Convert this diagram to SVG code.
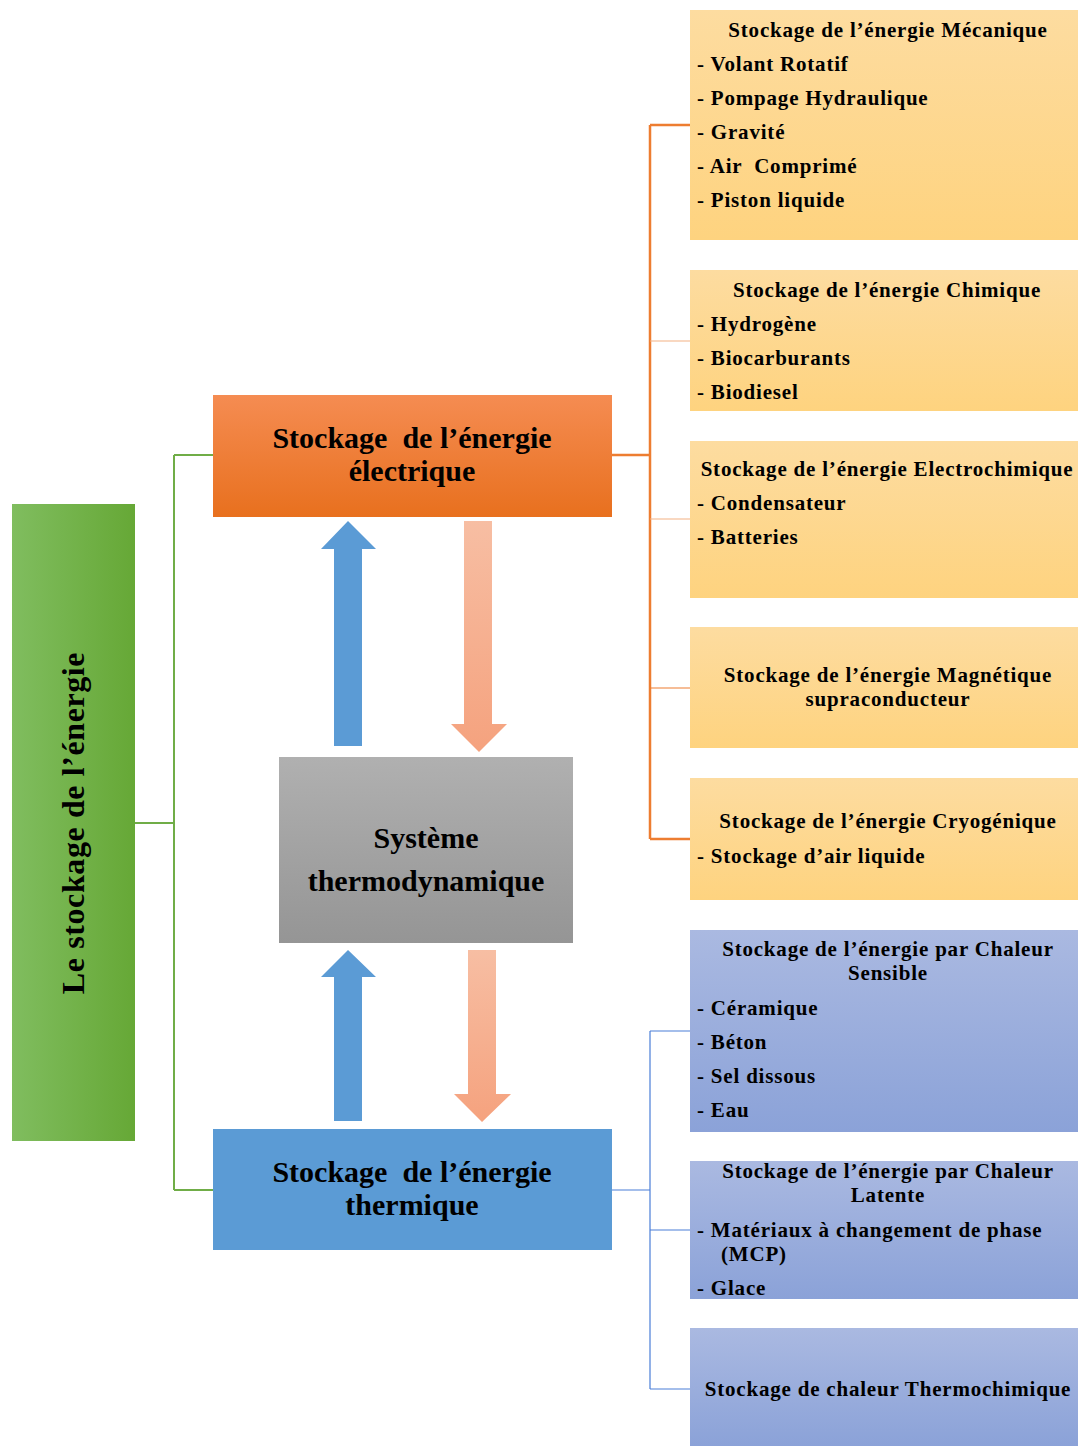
<svg xmlns="http://www.w3.org/2000/svg" width="1078" height="1446" viewBox="0 0 1078 1446">
<defs>
<linearGradient id="gY" x1="0" y1="0" x2="0" y2="1"><stop offset="0" stop-color="#fddca0"/><stop offset="1" stop-color="#fed37f"/></linearGradient>
<linearGradient id="gB" x1="0" y1="0" x2="0" y2="1"><stop offset="0" stop-color="#aab9e1"/><stop offset="1" stop-color="#8ba2d8"/></linearGradient>
<linearGradient id="gO" x1="0" y1="0" x2="0" y2="1"><stop offset="0" stop-color="#f58c52"/><stop offset="1" stop-color="#e8701e"/></linearGradient>
<linearGradient id="gG" x1="0" y1="0" x2="0" y2="1"><stop offset="0" stop-color="#b0b0b0"/><stop offset="1" stop-color="#959595"/></linearGradient>
<linearGradient id="gGr" x1="0" y1="0" x2="1" y2="0"><stop offset="0" stop-color="#80bd5f"/><stop offset="1" stop-color="#66a836"/></linearGradient>
<linearGradient id="gS" x1="0" y1="0" x2="0" y2="1"><stop offset="0" stop-color="#f7bea3"/><stop offset="1" stop-color="#f5a27e"/></linearGradient>
<style>
text{font-family:"Liberation Serif","Times New Roman",serif;font-weight:bold;fill:#000}
.t{font-size:21px;letter-spacing:0.8px}
.c{text-anchor:middle}
.big{font-size:30px;text-anchor:middle;white-space:pre}
</style>
</defs>
<g id="connectors" fill="none">
<path d="M135 823H174M174 455V1190M174 455H213M174 1190H213" stroke="#70ad47" stroke-width="2"/>
<path d="M612 455H650M650 125V839M650 125H690M650 839H690" stroke="#ed7d31" stroke-width="2.5"/>
<path d="M650 341H690M650 519H690" stroke="#f4b183" stroke-width="1.2"/>
<path d="M650 688H690" stroke="#ed7d31" stroke-width="1.2"/>
<path d="M612 1190H650M650 1031V1389M650 1031H690M650 1230H690M650 1389H690" stroke="#4a7ed8" stroke-width="1.2"/>
<path d="M348 521L376 549H362V746H334V549H321Z" fill="#5b9bd5" stroke="none"/>
<path d="M348 950L376 977H362V1121H334V977H321Z" fill="#5b9bd5" stroke="none"/>
<path d="M464 521H492V724H507L479 752L451 724H464Z" fill="url(#gS)" stroke="none"/>
<path d="M468 950H496V1094H511L482 1122L454 1094H468Z" fill="url(#gS)" stroke="none"/>
</g>
<g id="root">
<rect x="12" y="504" width="123" height="637" fill="url(#gGr)"/>
<text transform="translate(84 823) rotate(-90)" class="c" font-size="32" letter-spacing="0.6">Le stockage de l’énergie</text>
</g>
<g id="electrique">
<rect x="213" y="395" width="399" height="122" fill="url(#gO)"/>
<text x="412" y="448" class="big" xml:space="preserve">Stockage  de l’énergie</text>
<text x="412" y="481" class="big">électrique</text>
</g>
<g id="systeme">
<rect x="279" y="757" width="294" height="186" fill="url(#gG)"/>
<text x="426" y="848" class="big">Système</text>
<text x="426" y="891" class="big">thermodynamique</text>
</g>
<g id="thermique">
<rect x="213" y="1129" width="399" height="121" fill="#5b9bd5"/>
<text x="412" y="1182" class="big" xml:space="preserve">Stockage  de l’énergie</text>
<text x="412" y="1215" class="big">thermique</text>
</g>
<g id="mecanique">
<rect x="690" y="10" width="388" height="230" fill="url(#gY)"/>
<text x="888" y="37" class="t c">Stockage de l’énergie Mécanique</text>
<text x="697" y="71" class="t">- Volant Rotatif</text>
<text x="697" y="105" class="t">- Pompage Hydraulique</text>
<text x="697" y="139" class="t">- Gravité</text>
<text x="697" y="173" class="t" xml:space="preserve">- Air  Comprimé</text>
<text x="697" y="207" class="t">- Piston liquide</text>
</g>
<g id="chimique">
<rect x="690" y="270" width="388" height="141" fill="url(#gY)"/>
<text x="887" y="297" class="t c">Stockage de l’énergie Chimique</text>
<text x="697" y="331" class="t">- Hydrogène</text>
<text x="697" y="365" class="t">- Biocarburants</text>
<text x="697" y="399" class="t">- Biodiesel</text>
</g>
<g id="electrochimique">
<rect x="690" y="441" width="388" height="157" fill="url(#gY)"/>
<text x="887" y="476" class="t c">Stockage de l’énergie Electrochimique</text>
<text x="697" y="510" class="t">- Condensateur</text>
<text x="697" y="544" class="t">- Batteries</text>
</g>
<g id="magnetique">
<rect x="690" y="627" width="388" height="121" fill="url(#gY)"/>
<text x="888" y="682" class="t c">Stockage de l’énergie Magnétique</text>
<text x="888" y="706" class="t c">supraconducteur</text>
</g>
<g id="cryogenique">
<rect x="690" y="778" width="388" height="122" fill="url(#gY)"/>
<text x="888" y="828" class="t c">Stockage de l’énergie Cryogénique</text>
<text x="697" y="863" class="t">- Stockage d’air liquide</text>
</g>
<g id="sensible">
<rect x="690" y="930" width="388" height="202" fill="url(#gB)"/>
<text x="888" y="956" class="t c">Stockage de l’énergie par Chaleur</text>
<text x="888" y="980" class="t c">Sensible</text>
<text x="697" y="1015" class="t">- Céramique</text>
<text x="697" y="1049" class="t">- Béton</text>
<text x="697" y="1083" class="t">- Sel dissous</text>
<text x="697" y="1117" class="t">- Eau</text>
</g>
<g id="latente">
<rect x="690" y="1161" width="388" height="138" fill="url(#gB)"/>
<text x="888" y="1178" class="t c">Stockage de l’énergie par Chaleur</text>
<text x="888" y="1202" class="t c">Latente</text>
<text x="697" y="1237" class="t">- Matériaux à changement de phase</text>
<text x="721" y="1261" class="t">(MCP)</text>
<text x="697" y="1295" class="t">- Glace</text>
</g>
<g id="thermochimique">
<rect x="690" y="1328" width="388" height="118" fill="url(#gB)"/>
<text x="888" y="1396" class="t c">Stockage de chaleur Thermochimique</text>
</g>
</svg>
